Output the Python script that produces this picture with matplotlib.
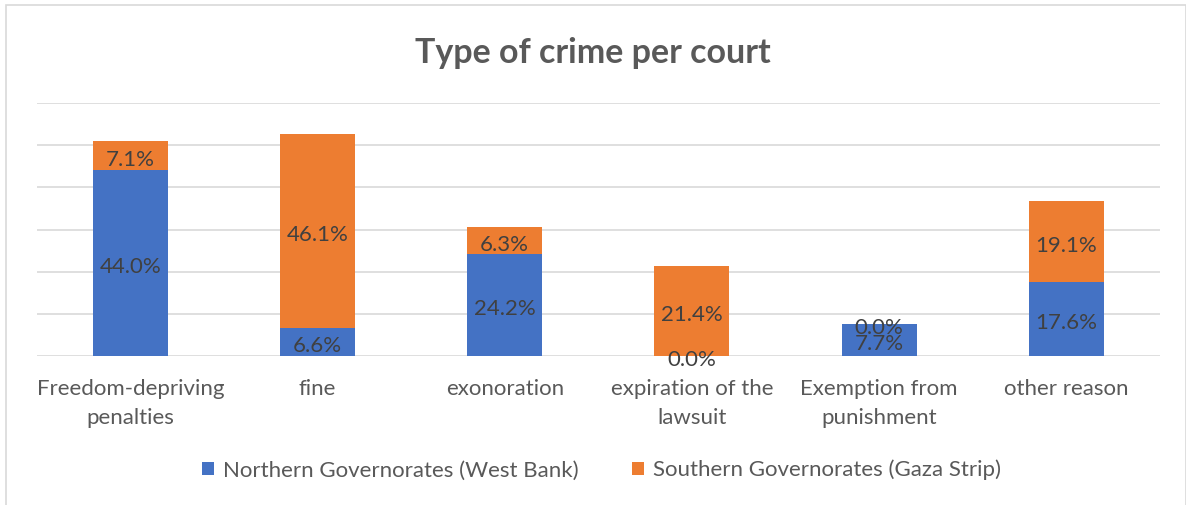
import matplotlib
matplotlib.use('Agg')
import matplotlib.pyplot as plt
from matplotlib.patches import Rectangle

plt.rcParams['font.family'] = ['Lato', 'DejaVu Sans']

categories = ['Freedom-depriving\npenalties', 'fine', 'exonoration',
              'expiration of the\nlawsuit', 'Exemption from\npunishment', 'other reason']
north = [44.0, 6.6, 24.2, 0.0, 7.7, 17.6]
south = [7.1, 46.1, 6.3, 21.4, 0.0, 19.1]
series_names = ['Northern Governorates (West Bank)', 'Southern Governorates (Gaza Strip)']

blue = '#4472C4'
orange = '#ED7D31'
text_col = '#404040'
label_col = '#595959'

fig = plt.figure(figsize=(11.86, 5.05), dpi=100)
ax = fig.add_axes([0.031, 0.295, 0.947, 0.501])

x = list(range(len(categories)))
b1 = ax.bar(x, north, width=0.4, color=blue, label=series_names[0], zorder=3)
b2 = ax.bar(x, south, width=0.4, bottom=north, color=orange, label=series_names[1], zorder=3)

# value labels centred in each segment (zero segments sit on the segment edge)
for i in x:
    ax.annotate('%.1f%%' % north[i], (i, north[i] / 2), xytext=(0, -3),
                textcoords='offset points', ha='center', va='center',
                fontsize=16, color=text_col, zorder=4)
    ax.annotate('%.1f%%' % south[i], (i, north[i] + south[i] / 2), xytext=(0, -3),
                textcoords='offset points', ha='center', va='center',
                fontsize=16, color=text_col, zorder=4)

ax.set_xlim(-0.5, len(categories) - 0.5)
ax.set_ylim(0, 60)
ax.set_yticks(range(0, 61, 10))
ax.yaxis.grid(True, color='#d9d9d9', linewidth=1.2, zorder=0)
ax.tick_params(axis='y', left=False, labelleft=False)
ax.tick_params(axis='x', length=0, pad=16.5, labelsize=16, labelcolor=label_col)
ax.set_xticks(x)
ax.set_xticklabels(categories, linespacing=1.55)
for s in ax.spines.values():
    s.set_visible(False)

fig.text(0.5, 0.896, 'Type of crime per court', ha='center', va='center',
         fontsize=24.5, fontweight='bold', color=label_col)

fig.legend(handles=[b1, b2], loc='center', bbox_to_anchor=(0.507, 0.069), ncol=2,
           frameon=False, fontsize=16, labelcolor=label_col, handlelength=0.55,
           handleheight=0.55, handletextpad=0.4, columnspacing=2.4)

fig.patches.append(Rectangle((0.005, -0.01), 0.995, 1.0, transform=fig.transFigure,
                             fill=False, edgecolor='#d9d9d9', linewidth=1.2))

fig.savefig('out.png', dpi=100, facecolor='white')
